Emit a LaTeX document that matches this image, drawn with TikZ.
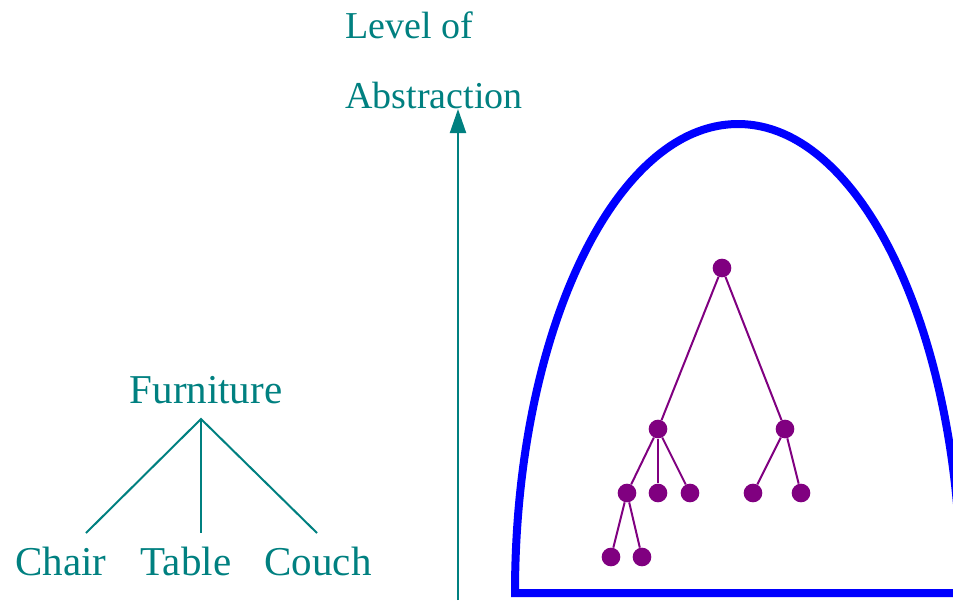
\documentclass[tikz,border=0pt]{standalone}
\usepackage{fontspec}
\setmainfont{Liberation Serif}
\usetikzlibrary{arrows.meta}
\definecolor{tealtext}{RGB}{0,128,128}
\definecolor{treepurple}{RGB}{128,0,128}
\definecolor{domeblue}{RGB}{0,0,255}

\begin{document}
\begin{tikzpicture}[
  x=0.75pt,
  y=-0.75pt,
  label text/.style={font=\fontsize{30.75}{36}\selectfont, text=tealtext,
    inner sep=0pt, anchor=base},
  axis text/.style={font=\fontsize{28.5}{34}\selectfont, text=tealtext,
    inner sep=0pt, anchor=base west},
  fork line/.style={draw=tealtext, line width=1.5pt},
  axis line/.style={draw=tealtext, line width=1.5pt,
    -{Triangle[length=18pt,width=12pt]}},
  dome/.style={draw=domeblue, line width=6pt, line join=miter},
  leaf/.style={circle, fill=treepurple, inner sep=0pt, minimum size=14pt},
  branch/.style={draw=treepurple, line width=1.5pt}
]
  \path[use as bounding box] (0,0) rectangle (953,600);
  \clip (0,0) rectangle (953,600);

  % Furniture and its kinds.
  \node[label text] (furniture) at (206,403) {Furniture};
  \node[label text] (chair) at (61,575) {Chair};
  \node[label text] (table) at (186,575) {Table};
  \node[label text] (couch) at (318,575) {Couch};
  \coordinate (fork) at (201,419);
  \coordinate (chairtop) at (86,533);
  \coordinate (tabletop) at (201,533);
  \coordinate (couchtop) at (317,533);
  \draw[fork line] (chairtop) -- (fork) -- (couchtop);
  \draw[fork line] (fork) -- (tabletop);

  % Abstraction axis.
  \node[axis text] (levelof) at (345,38) {Level of};
  \node[axis text] (abstraction) at (345,108) {Abstraction};
  \coordinate (axisbase) at (458,600);
  \coordinate (axistop) at (458,109);
  \draw[axis line] (axisbase) -- (axistop);

  % Dome round the hierarchy: half an ellipse on a flat base.
  \coordinate (domeleft) at (515,593);
  \draw[dome] (domeleft) arc[start angle=180, end angle=360,
    x radius=223, y radius=469] -- cycle;

  % Hierarchy inside the dome.
  \node[leaf] (root) at (722,268) {};
  \node[leaf] (left) at (658,429) {};
  \node[leaf] (right) at (785,429) {};
  \node[leaf] (leftA) at (627,493) {};
  \node[leaf] (leftB) at (658,493) {};
  \node[leaf] (leftC) at (690,493) {};
  \node[leaf] (rightA) at (753,493) {};
  \node[leaf] (rightB) at (801,493) {};
  \node[leaf] (leftAa) at (611,557) {};
  \node[leaf] (leftAb) at (642,557) {};
  \foreach \parent/\child in {root/left, root/right, left/leftA, left/leftB,
      left/leftC, right/rightA, right/rightB, leftA/leftAa, leftA/leftAb}
    \draw[branch] (\parent) -- (\child);
\end{tikzpicture}
\end{document}
